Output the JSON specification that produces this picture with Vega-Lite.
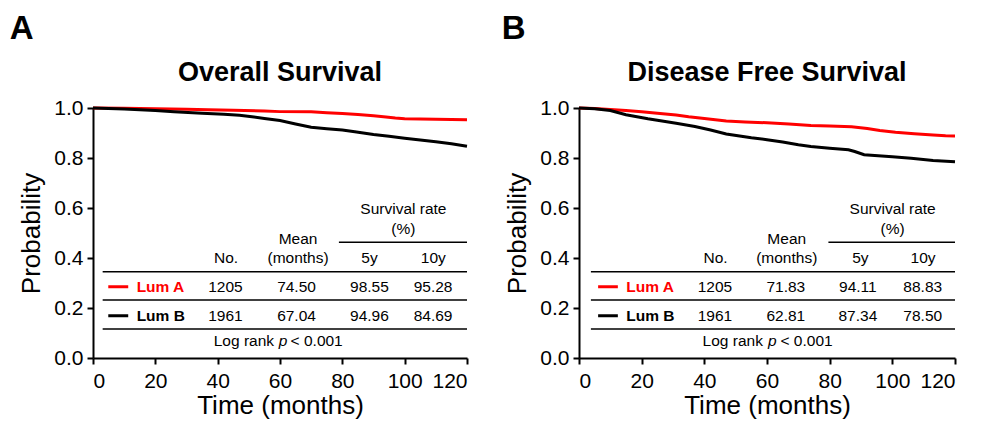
{
  "$schema": "https://vega.github.io/schema/vega-lite/v6.json",
  "background": "white",
  "padding": {"left": 9, "top": 13, "right": 5, "bottom": 5},
  "spacing": 28,
  "config": {
    "font": "Liberation Sans",
    "view": {"stroke": null},
    "axis": {
      "grid": false,
      "domainColor": "black",
      "domainWidth": 2,
      "tickColor": "black",
      "tickWidth": 2,
      "tickSize": 6,
      "labelColor": "black",
      "labelFont": "Liberation Sans",
      "labelFontSize": 21,
      "labelPadding": 4,
      "titleColor": "black",
      "titleFont": "Liberation Sans",
      "titleFontSize": 26,
      "titleFontWeight": "normal"
    },
    "axisY": {"titlePadding": 9, "labelPadding": 4},
    "axisX": {"titlePadding": 1, "labelPadding": 6},
    "title": {"color": "black", "font": "Liberation Sans"},
    "text": {"font": "Liberation Sans", "fontSize": 15.5, "color": "black"}
  },
  "datasets": {
    "curves": [
      {"panel": "A", "group": "Lum A", "month": 0, "prob": 1.0},
      {"panel": "A", "group": "Lum A", "month": 10, "prob": 0.999},
      {"panel": "A", "group": "Lum A", "month": 20, "prob": 0.997},
      {"panel": "A", "group": "Lum A", "month": 30, "prob": 0.995},
      {"panel": "A", "group": "Lum A", "month": 37, "prob": 0.993},
      {"panel": "A", "group": "Lum A", "month": 45, "prob": 0.991},
      {"panel": "A", "group": "Lum A", "month": 55, "prob": 0.988},
      {"panel": "A", "group": "Lum A", "month": 60, "prob": 0.9855},
      {"panel": "A", "group": "Lum A", "month": 70, "prob": 0.985},
      {"panel": "A", "group": "Lum A", "month": 75, "prob": 0.981},
      {"panel": "A", "group": "Lum A", "month": 80, "prob": 0.978},
      {"panel": "A", "group": "Lum A", "month": 85, "prob": 0.974},
      {"panel": "A", "group": "Lum A", "month": 90, "prob": 0.969},
      {"panel": "A", "group": "Lum A", "month": 94, "prob": 0.964},
      {"panel": "A", "group": "Lum A", "month": 97, "prob": 0.960},
      {"panel": "A", "group": "Lum A", "month": 100, "prob": 0.957},
      {"panel": "A", "group": "Lum A", "month": 105, "prob": 0.956},
      {"panel": "A", "group": "Lum A", "month": 110, "prob": 0.955},
      {"panel": "A", "group": "Lum A", "month": 115, "prob": 0.954},
      {"panel": "A", "group": "Lum A", "month": 120, "prob": 0.953},
      {"panel": "A", "group": "Lum B", "month": 0, "prob": 1.0},
      {"panel": "A", "group": "Lum B", "month": 10, "prob": 0.996},
      {"panel": "A", "group": "Lum B", "month": 20, "prob": 0.99},
      {"panel": "A", "group": "Lum B", "month": 26, "prob": 0.985},
      {"panel": "A", "group": "Lum B", "month": 35, "prob": 0.979},
      {"panel": "A", "group": "Lum B", "month": 42, "prob": 0.975},
      {"panel": "A", "group": "Lum B", "month": 47, "prob": 0.971},
      {"panel": "A", "group": "Lum B", "month": 51, "prob": 0.965},
      {"panel": "A", "group": "Lum B", "month": 55, "prob": 0.958},
      {"panel": "A", "group": "Lum B", "month": 60, "prob": 0.9496},
      {"panel": "A", "group": "Lum B", "month": 65, "prob": 0.936},
      {"panel": "A", "group": "Lum B", "month": 70, "prob": 0.923},
      {"panel": "A", "group": "Lum B", "month": 75, "prob": 0.917},
      {"panel": "A", "group": "Lum B", "month": 80, "prob": 0.912},
      {"panel": "A", "group": "Lum B", "month": 84, "prob": 0.905},
      {"panel": "A", "group": "Lum B", "month": 90, "prob": 0.894},
      {"panel": "A", "group": "Lum B", "month": 95, "prob": 0.887},
      {"panel": "A", "group": "Lum B", "month": 100, "prob": 0.879},
      {"panel": "A", "group": "Lum B", "month": 105, "prob": 0.872},
      {"panel": "A", "group": "Lum B", "month": 110, "prob": 0.865},
      {"panel": "A", "group": "Lum B", "month": 115, "prob": 0.857},
      {"panel": "A", "group": "Lum B", "month": 120, "prob": 0.847},
      {"panel": "B", "group": "Lum A", "month": 0, "prob": 1.0},
      {"panel": "B", "group": "Lum A", "month": 5, "prob": 0.998},
      {"panel": "B", "group": "Lum A", "month": 10, "prob": 0.994},
      {"panel": "B", "group": "Lum A", "month": 15, "prob": 0.99},
      {"panel": "B", "group": "Lum A", "month": 20, "prob": 0.985},
      {"panel": "B", "group": "Lum A", "month": 25, "prob": 0.979},
      {"panel": "B", "group": "Lum A", "month": 31, "prob": 0.972},
      {"panel": "B", "group": "Lum A", "month": 35, "prob": 0.965},
      {"panel": "B", "group": "Lum A", "month": 40, "prob": 0.958},
      {"panel": "B", "group": "Lum A", "month": 47, "prob": 0.948},
      {"panel": "B", "group": "Lum A", "month": 53, "prob": 0.944},
      {"panel": "B", "group": "Lum A", "month": 60, "prob": 0.9411},
      {"panel": "B", "group": "Lum A", "month": 67, "prob": 0.936},
      {"panel": "B", "group": "Lum A", "month": 74, "prob": 0.93},
      {"panel": "B", "group": "Lum A", "month": 80, "prob": 0.928},
      {"panel": "B", "group": "Lum A", "month": 87, "prob": 0.925},
      {"panel": "B", "group": "Lum A", "month": 92, "prob": 0.918},
      {"panel": "B", "group": "Lum A", "month": 96, "prob": 0.91},
      {"panel": "B", "group": "Lum A", "month": 101, "prob": 0.903},
      {"panel": "B", "group": "Lum A", "month": 107, "prob": 0.897},
      {"panel": "B", "group": "Lum A", "month": 113, "prob": 0.892},
      {"panel": "B", "group": "Lum A", "month": 117, "prob": 0.889},
      {"panel": "B", "group": "Lum A", "month": 120, "prob": 0.8883},
      {"panel": "B", "group": "Lum B", "month": 0, "prob": 1.0},
      {"panel": "B", "group": "Lum B", "month": 5, "prob": 0.997},
      {"panel": "B", "group": "Lum B", "month": 10, "prob": 0.99},
      {"panel": "B", "group": "Lum B", "month": 15, "prob": 0.973},
      {"panel": "B", "group": "Lum B", "month": 22, "prob": 0.957},
      {"panel": "B", "group": "Lum B", "month": 31, "prob": 0.939},
      {"panel": "B", "group": "Lum B", "month": 37, "prob": 0.926},
      {"panel": "B", "group": "Lum B", "month": 42, "prob": 0.912},
      {"panel": "B", "group": "Lum B", "month": 47, "prob": 0.896},
      {"panel": "B", "group": "Lum B", "month": 55, "prob": 0.881},
      {"panel": "B", "group": "Lum B", "month": 60, "prob": 0.8734},
      {"panel": "B", "group": "Lum B", "month": 65, "prob": 0.864},
      {"panel": "B", "group": "Lum B", "month": 70, "prob": 0.853},
      {"panel": "B", "group": "Lum B", "month": 74, "prob": 0.846},
      {"panel": "B", "group": "Lum B", "month": 80, "prob": 0.839},
      {"panel": "B", "group": "Lum B", "month": 86, "prob": 0.833},
      {"panel": "B", "group": "Lum B", "month": 88, "prob": 0.826},
      {"panel": "B", "group": "Lum B", "month": 91, "prob": 0.813},
      {"panel": "B", "group": "Lum B", "month": 100, "prob": 0.805},
      {"panel": "B", "group": "Lum B", "month": 106, "prob": 0.799},
      {"panel": "B", "group": "Lum B", "month": 113, "prob": 0.79},
      {"panel": "B", "group": "Lum B", "month": 120, "prob": 0.785}
    ],
    "rules": [
      {"panel": "A", "month": 78.9, "month2": 120, "prob": 0.463},
      {"panel": "A", "month": 3.1, "month2": 120, "prob": 0.345},
      {"panel": "A", "month": 3.1, "month2": 120, "prob": 0.232},
      {"panel": "A", "month": 3.1, "month2": 120, "prob": 0.116},
      {"panel": "B", "month": 79.6, "month2": 120, "prob": 0.463},
      {"panel": "B", "month": 3.8, "month2": 120, "prob": 0.345},
      {"panel": "B", "month": 3.8, "month2": 120, "prob": 0.232},
      {"panel": "B", "month": 3.8, "month2": 120, "prob": 0.116}
    ],
    "legendlines": [
      {"panel": "A", "group": "Lum A", "month": 4.9, "month2": 11.3, "prob": 0.285},
      {"panel": "A", "group": "Lum B", "month": 4.9, "month2": 11.3, "prob": 0.169},
      {"panel": "B", "group": "Lum A", "month": 6.1, "month2": 12.4, "prob": 0.285},
      {"panel": "B", "group": "Lum B", "month": 6.1, "month2": 12.4, "prob": 0.169}
    ],
    "table": [
      {"panel": "A", "role": "plain", "month": 99.6, "prob": 0.596, "text": "Survival rate"},
      {"panel": "A", "role": "plain", "month": 99.6, "prob": 0.516, "text": "(%)"},
      {"panel": "A", "role": "plain", "month": 65.8, "prob": 0.478, "text": "Mean"},
      {"panel": "A", "role": "plain", "month": 65.8, "prob": 0.40, "text": "(months)"},
      {"panel": "A", "role": "plain", "month": 42.7, "prob": 0.40, "text": "No."},
      {"panel": "A", "role": "plain", "month": 88.7, "prob": 0.40, "text": "5y"},
      {"panel": "A", "role": "plain", "month": 109.2, "prob": 0.40, "text": "10y"},
      {"panel": "A", "role": "plain", "month": 42.5, "prob": 0.285, "text": "1205"},
      {"panel": "A", "role": "plain", "month": 65.3, "prob": 0.285, "text": "74.50"},
      {"panel": "A", "role": "plain", "month": 88.7, "prob": 0.285, "text": "98.55"},
      {"panel": "A", "role": "plain", "month": 109.1, "prob": 0.285, "text": "95.28"},
      {"panel": "A", "role": "plain", "month": 42.5, "prob": 0.169, "text": "1961"},
      {"panel": "A", "role": "plain", "month": 65.3, "prob": 0.169, "text": "67.04"},
      {"panel": "A", "role": "plain", "month": 88.7, "prob": 0.169, "text": "94.96"},
      {"panel": "A", "role": "plain", "month": 109.1, "prob": 0.169, "text": "84.69"},
      {"panel": "A", "role": "label", "group": "Lum A", "month": 14.0, "prob": 0.285, "text": "Lum A"},
      {"panel": "A", "role": "label", "group": "Lum B", "month": 14.0, "prob": 0.169, "text": "Lum B"},
      {"panel": "A", "role": "noteL", "month": 58.1, "prob": 0.068, "text": "Log rank"},
      {"panel": "A", "role": "noteP", "month": 61.0, "prob": 0.068, "text": "p"},
      {"panel": "A", "role": "noteR", "month": 63.4, "prob": 0.068, "text": "< 0.001"},
      {"panel": "B", "role": "plain", "month": 100.1, "prob": 0.596, "text": "Survival rate"},
      {"panel": "B", "role": "plain", "month": 100.1, "prob": 0.516, "text": "(%)"},
      {"panel": "B", "role": "plain", "month": 66.3, "prob": 0.478, "text": "Mean"},
      {"panel": "B", "role": "plain", "month": 66.3, "prob": 0.40, "text": "(months)"},
      {"panel": "B", "role": "plain", "month": 43.6, "prob": 0.40, "text": "No."},
      {"panel": "B", "role": "plain", "month": 89.8, "prob": 0.40, "text": "5y"},
      {"panel": "B", "role": "plain", "month": 109.8, "prob": 0.40, "text": "10y"},
      {"panel": "B", "role": "plain", "month": 43.4, "prob": 0.285, "text": "1205"},
      {"panel": "B", "role": "plain", "month": 66.0, "prob": 0.285, "text": "71.83"},
      {"panel": "B", "role": "plain", "month": 89.0, "prob": 0.285, "text": "94.11"},
      {"panel": "B", "role": "plain", "month": 109.7, "prob": 0.285, "text": "88.83"},
      {"panel": "B", "role": "plain", "month": 43.4, "prob": 0.169, "text": "1961"},
      {"panel": "B", "role": "plain", "month": 66.0, "prob": 0.169, "text": "62.81"},
      {"panel": "B", "role": "plain", "month": 89.0, "prob": 0.169, "text": "87.34"},
      {"panel": "B", "role": "plain", "month": 109.7, "prob": 0.169, "text": "78.50"},
      {"panel": "B", "role": "label", "group": "Lum A", "month": 15.1, "prob": 0.285, "text": "Lum A"},
      {"panel": "B", "role": "label", "group": "Lum B", "month": 15.1, "prob": 0.169, "text": "Lum B"},
      {"panel": "B", "role": "noteL", "month": 58.7, "prob": 0.068, "text": "Log rank"},
      {"panel": "B", "role": "noteP", "month": 61.7, "prob": 0.068, "text": "p"},
      {"panel": "B", "role": "noteR", "month": 64.3, "prob": 0.068, "text": "< 0.001"}
    ]
  },
  "hconcat": [
    {
      "title": {"text": "A", "anchor": "start", "frame": "bounds", "fontSize": 33, "fontWeight": "bold", "offset": 13, "dx": -9},
      "vconcat": [
        {
          "title": {"text": "Overall Survival", "fontSize": 27, "fontWeight": "bold", "offset": 10},
          "width": 374,
          "height": 250,
          "layer": [
            {
              "data": {"name": "curves"},
              "transform": [{"filter": "datum.panel === 'A'"}],
              "mark": {"type": "line", "strokeWidth": 3},
              "encoding": {
                "x": {"field": "month", "type": "quantitative", "scale": {"domain": [0, 120], "nice": false}, "axis": {"values": [0, 20, 40, 60, 80, 100, 120], "title": "Time (months)"}},
                "y": {"field": "prob", "type": "quantitative", "scale": {"domain": [0, 1]}, "axis": {"values": [0, 0.2, 0.4, 0.6, 0.8, 1], "format": ".1f", "title": "Probability"}},
                "color": {"field": "group", "type": "nominal", "scale": {"domain": ["Lum A", "Lum B"], "range": ["#ff0000", "#000000"]}, "legend": null}
              }
            },
            {
              "data": {"name": "rules"},
              "transform": [{"filter": "datum.panel === 'A'"}],
              "mark": {"type": "rule", "strokeWidth": 1.5, "color": "black"},
              "encoding": {
                "x": {"field": "month", "type": "quantitative"},
                "x2": {"field": "month2"},
                "y": {"field": "prob", "type": "quantitative"}
              }
            },
            {
              "data": {"name": "legendlines"},
              "transform": [{"filter": "datum.panel === 'A'"}],
              "mark": {"type": "rule", "strokeWidth": 3},
              "encoding": {
                "x": {"field": "month", "type": "quantitative"},
                "x2": {"field": "month2"},
                "y": {"field": "prob", "type": "quantitative"},
                "color": {"field": "group", "type": "nominal", "legend": null}
              }
            },
            {
              "data": {"name": "table"},
              "transform": [{"filter": "datum.panel === 'A' && datum.role === 'plain'"}],
              "mark": {"type": "text", "align": "center", "baseline": "middle"},
              "encoding": {
                "x": {"field": "month", "type": "quantitative"},
                "y": {"field": "prob", "type": "quantitative"},
                "text": {"field": "text"}
              }
            },
            {
              "data": {"name": "table"},
              "transform": [{"filter": "datum.panel === 'A' && datum.role === 'label'"}],
              "mark": {"type": "text", "align": "left", "baseline": "middle", "fontWeight": "bold"},
              "encoding": {
                "x": {"field": "month", "type": "quantitative"},
                "y": {"field": "prob", "type": "quantitative"},
                "text": {"field": "text"},
                "color": {"field": "group", "type": "nominal", "legend": null}
              }
            },
            {
              "data": {"name": "table"},
              "transform": [{"filter": "datum.panel === 'A' && datum.role === 'noteL'"}],
              "mark": {"type": "text", "align": "right", "baseline": "middle"},
              "encoding": {
                "x": {"field": "month", "type": "quantitative"},
                "y": {"field": "prob", "type": "quantitative"},
                "text": {"field": "text"}
              }
            },
            {
              "data": {"name": "table"},
              "transform": [{"filter": "datum.panel === 'A' && datum.role === 'noteP'"}],
              "mark": {"type": "text", "align": "center", "baseline": "middle", "fontStyle": "italic"},
              "encoding": {
                "x": {"field": "month", "type": "quantitative"},
                "y": {"field": "prob", "type": "quantitative"},
                "text": {"field": "text"}
              }
            },
            {
              "data": {"name": "table"},
              "transform": [{"filter": "datum.panel === 'A' && datum.role === 'noteR'"}],
              "mark": {"type": "text", "align": "left", "baseline": "middle"},
              "encoding": {
                "x": {"field": "month", "type": "quantitative"},
                "y": {"field": "prob", "type": "quantitative"},
                "text": {"field": "text"}
              }
            }
          ]
        }
      ]
    },
    {
      "title": {"text": "B", "anchor": "start", "frame": "bounds", "fontSize": 33, "fontWeight": "bold", "offset": 13, "dx": -3},
      "vconcat": [
        {
          "title": {"text": "Disease Free Survival", "fontSize": 27, "fontWeight": "bold", "offset": 10},
          "width": 376,
          "height": 250,
          "layer": [
            {
              "data": {"name": "curves"},
              "transform": [{"filter": "datum.panel === 'B'"}],
              "mark": {"type": "line", "strokeWidth": 3},
              "encoding": {
                "x": {"field": "month", "type": "quantitative", "scale": {"domain": [0, 120], "nice": false}, "axis": {"values": [0, 20, 40, 60, 80, 100, 120], "title": "Time (months)"}},
                "y": {"field": "prob", "type": "quantitative", "scale": {"domain": [0, 1]}, "axis": {"values": [0, 0.2, 0.4, 0.6, 0.8, 1], "format": ".1f", "title": "Probability"}},
                "color": {"field": "group", "type": "nominal", "scale": {"domain": ["Lum A", "Lum B"], "range": ["#ff0000", "#000000"]}, "legend": null}
              }
            },
            {
              "data": {"name": "rules"},
              "transform": [{"filter": "datum.panel === 'B'"}],
              "mark": {"type": "rule", "strokeWidth": 1.5, "color": "black"},
              "encoding": {
                "x": {"field": "month", "type": "quantitative"},
                "x2": {"field": "month2"},
                "y": {"field": "prob", "type": "quantitative"}
              }
            },
            {
              "data": {"name": "legendlines"},
              "transform": [{"filter": "datum.panel === 'B'"}],
              "mark": {"type": "rule", "strokeWidth": 3},
              "encoding": {
                "x": {"field": "month", "type": "quantitative"},
                "x2": {"field": "month2"},
                "y": {"field": "prob", "type": "quantitative"},
                "color": {"field": "group", "type": "nominal", "legend": null}
              }
            },
            {
              "data": {"name": "table"},
              "transform": [{"filter": "datum.panel === 'B' && datum.role === 'plain'"}],
              "mark": {"type": "text", "align": "center", "baseline": "middle"},
              "encoding": {
                "x": {"field": "month", "type": "quantitative"},
                "y": {"field": "prob", "type": "quantitative"},
                "text": {"field": "text"}
              }
            },
            {
              "data": {"name": "table"},
              "transform": [{"filter": "datum.panel === 'B' && datum.role === 'label'"}],
              "mark": {"type": "text", "align": "left", "baseline": "middle", "fontWeight": "bold"},
              "encoding": {
                "x": {"field": "month", "type": "quantitative"},
                "y": {"field": "prob", "type": "quantitative"},
                "text": {"field": "text"},
                "color": {"field": "group", "type": "nominal", "legend": null}
              }
            },
            {
              "data": {"name": "table"},
              "transform": [{"filter": "datum.panel === 'B' && datum.role === 'noteL'"}],
              "mark": {"type": "text", "align": "right", "baseline": "middle"},
              "encoding": {
                "x": {"field": "month", "type": "quantitative"},
                "y": {"field": "prob", "type": "quantitative"},
                "text": {"field": "text"}
              }
            },
            {
              "data": {"name": "table"},
              "transform": [{"filter": "datum.panel === 'B' && datum.role === 'noteP'"}],
              "mark": {"type": "text", "align": "center", "baseline": "middle", "fontStyle": "italic"},
              "encoding": {
                "x": {"field": "month", "type": "quantitative"},
                "y": {"field": "prob", "type": "quantitative"},
                "text": {"field": "text"}
              }
            },
            {
              "data": {"name": "table"},
              "transform": [{"filter": "datum.panel === 'B' && datum.role === 'noteR'"}],
              "mark": {"type": "text", "align": "left", "baseline": "middle"},
              "encoding": {
                "x": {"field": "month", "type": "quantitative"},
                "y": {"field": "prob", "type": "quantitative"},
                "text": {"field": "text"}
              }
            }
          ]
        }
      ]
    }
  ]
}
